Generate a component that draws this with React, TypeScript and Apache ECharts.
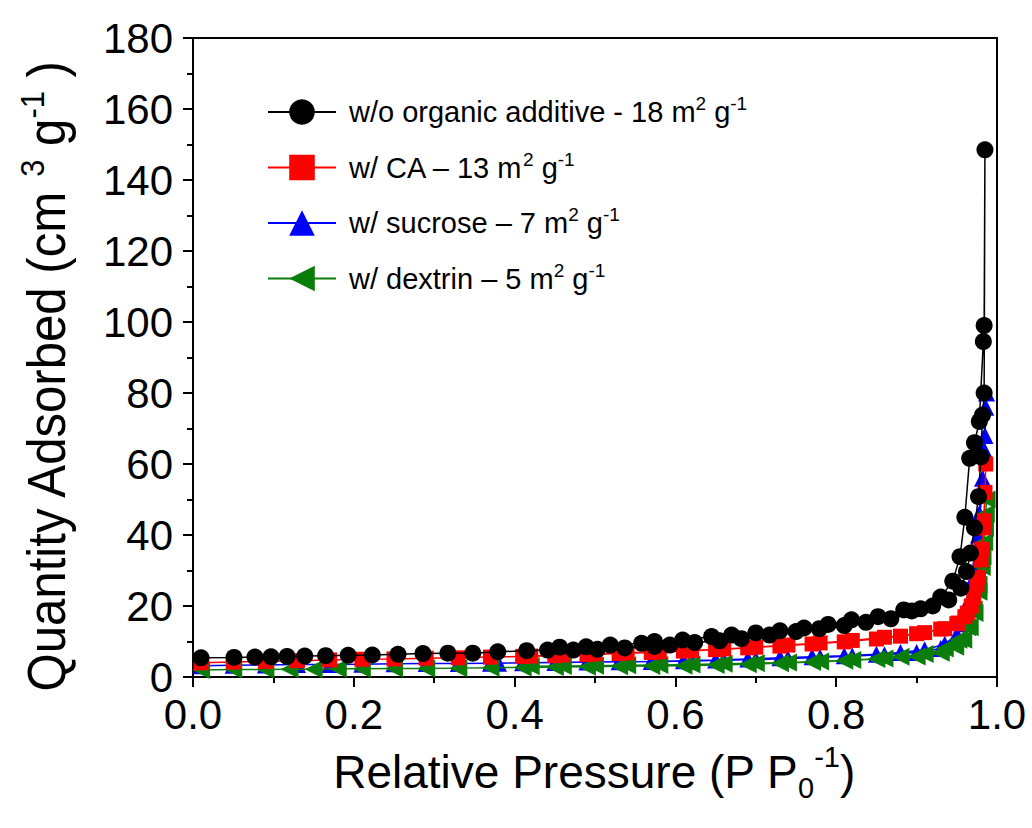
import React, { useEffect, useRef } from 'react';
import * as echarts from 'echarts';

const FONT = '"Liberation Sans", Arial, Helvetica, sans-serif';

const seriesNames = [
  'w/o organic additive - 18 m2 g-1',
  'w/ CA – 13 m2 g-1',
  'w/ sucrose – 7 m2 g-1',
  'w/ dextrin – 5 m2 g-1',
];
const legendPrefixes = [
  'w/o organic additive - 18 m',
  'w/ CA – 13 m',
  'w/ sucrose – 7 m',
  'w/ dextrin – 5 m',
];

const xTicks = [0, 0.2, 0.4, 0.6, 0.8, 1.0];
const yTicks = [0, 20, 40, 60, 80, 100, 120, 140, 160, 180];

// w/o organic additive (adsorption, then desorption)
const noAddP = [
  0.010, 0.051, 0.077, 0.097, 0.117, 0.139, 0.165, 0.193, 0.223, 0.255, 0.286, 0.317, 0.348, 0.379, 0.415, 0.441,
  0.473, 0.503, 0.537, 0.574, 0.593, 0.624, 0.655, 0.682, 0.717, 0.750, 0.779, 0.810, 0.837, 0.868, 0.894, 0.920,
  0.940, 0.955, 0.962, 0.967, 0.972, 0.977, 0.980, 0.982, 0.984, 0.985,
  0.984, 0.983, 0.978, 0.972, 0.966, 0.960, 0.954, 0.945, 0.930, 0.905, 0.884, 0.852, 0.819, 0.790, 0.760, 0.730,
  0.700, 0.670, 0.645, 0.609, 0.574, 0.558, 0.519, 0.489, 0.456,
];
const noAddQ = [
  5.4, 5.5, 5.6, 5.7, 5.8, 5.9, 6.0, 6.1, 6.2, 6.4, 6.6, 6.7, 6.7, 7.1, 7.4, 7.6,
  7.6, 7.8, 8.2, 8.6, 9.0, 9.7, 10.2, 10.8, 11.8, 12.8, 13.6, 14.5, 15.4, 16.4, 18.6, 20.0,
  21.7, 25.0, 29.7, 34.9, 42.0, 50.8, 62.0, 73.8, 80.0, 148.5,
  99.0, 94.5, 72.0, 66.0, 61.6, 45.0, 33.9, 27.0, 22.5, 19.2, 18.9, 17.0, 16.1, 14.8, 13.8, 13.0,
  12.4, 11.8, 11.4, 10.4, 10.0, 9.5, 9.0, 8.5, 8.4,
];

// w/ CA
const caP = [
  0.010, 0.05, 0.09, 0.13, 0.17, 0.21, 0.25, 0.29, 0.33, 0.37, 0.41, 0.45, 0.49, 0.53, 0.57, 0.61,
  0.65, 0.69, 0.73, 0.77, 0.81, 0.85, 0.88, 0.91, 0.935, 0.952, 0.963, 0.971, 0.977, 0.981, 0.984, 0.986,
  0.985, 0.983, 0.980, 0.975, 0.968, 0.960, 0.950, 0.930, 0.900, 0.860, 0.820, 0.780, 0.740, 0.700, 0.660, 0.620,
  0.580, 0.540, 0.500, 0.460, 0.420,
];
const caQ = [
  4.0, 4.2, 4.4, 4.6, 4.8, 5.0, 5.1, 5.3, 5.4, 5.6, 5.8, 6.0, 6.3, 6.6, 6.9, 7.3,
  7.7, 8.2, 8.7, 9.3, 9.9, 10.7, 11.5, 12.5, 13.6, 15.2, 18.0, 22.5, 28.0, 36.0, 44.0, 60.0,
  52.0, 42.0, 33.0, 26.0, 20.0, 17.0, 15.0, 13.5, 12.2, 11.2, 10.3, 9.6, 9.0, 8.4, 7.9, 7.5,
  7.1, 6.8, 6.5, 6.2, 5.9,
];

// w/ sucrose
const sucroseP = [
  0.010, 0.05, 0.09, 0.13, 0.17, 0.21, 0.25, 0.29, 0.33, 0.37, 0.41, 0.45, 0.49, 0.53, 0.57, 0.61,
  0.65, 0.69, 0.73, 0.77, 0.81, 0.85, 0.88, 0.91, 0.935, 0.950, 0.960, 0.967, 0.973, 0.978, 0.982, 0.985, 0.987,
  0.986, 0.984, 0.981, 0.977, 0.972, 0.966, 0.958, 0.948, 0.930, 0.900, 0.860, 0.820, 0.780, 0.740, 0.700, 0.660,
  0.620, 0.580, 0.540, 0.500, 0.460, 0.420, 0.380,
];
const sucroseQ = [
  3.2, 3.3, 3.4, 3.5, 3.5, 3.6, 3.7, 3.8, 3.8, 3.9, 4.0, 4.1, 4.2, 4.3, 4.4, 4.6,
  4.8, 5.1, 5.4, 5.7, 6.0, 6.4, 6.9, 7.7, 9.2, 12.0, 18.0, 26.0, 36.0, 46.0, 56.0, 68.0, 80.0,
  76.0, 64.0, 52.0, 40.0, 30.0, 22.0, 15.0, 10.5, 8.0, 6.9, 6.3, 5.9, 5.5, 5.2, 4.9, 4.7,
  4.5, 4.4, 4.3, 4.2, 4.1, 4.0, 3.9,
];

// w/ dextrin
const dextrinP = [
  0.010, 0.05, 0.09, 0.12, 0.15, 0.18, 0.21, 0.25, 0.29, 0.33, 0.37, 0.41, 0.45, 0.49, 0.53, 0.57,
  0.61, 0.65, 0.69, 0.73, 0.77, 0.81, 0.85, 0.88, 0.91, 0.935, 0.952, 0.963, 0.971, 0.977, 0.982, 0.985, 0.987,
  0.986, 0.984, 0.981, 0.977, 0.972, 0.966, 0.958, 0.948, 0.930, 0.900, 0.860, 0.820, 0.780, 0.740, 0.700, 0.660,
  0.620, 0.580, 0.540, 0.500, 0.460, 0.420,
];
const dextrinQ = [
  2.0, 2.1, 2.1, 2.2, 2.2, 2.3, 2.3, 2.4, 2.4, 2.5, 2.6, 2.7, 2.8, 2.9, 3.0, 3.1,
  3.2, 3.4, 3.6, 3.9, 4.2, 4.6, 5.1, 5.7, 6.5, 8.0, 10.5, 14.0, 19.0, 26.0, 34.0, 42.0, 50.0,
  46.0, 38.0, 31.0, 24.0, 18.0, 14.0, 10.5, 8.5, 6.8, 5.8, 5.2, 4.8, 4.4, 4.1, 3.9, 3.7,
  3.5, 3.4, 3.3, 3.2, 3.1, 3.0,
];

const colors = ['#000000', '#ff0000', '#0000ff', '#0a7d0a'];
const symbols = ['circle', 'rect', 'triangle', 'triangle'];
const symbolSizes = [17, 15, 17, 18];
const symbolRotates = [0, 0, 0, 90];
const zLevels = [5, 4, 2, 3];

function zip(p: number[], q: number[]) {
  return p.map((x, i) => [x, q[i]]);
}

export default function App() {
  const ref = useRef<HTMLDivElement>(null);

  useEffect(() => {
    const chart = echarts.init(ref.current!, null, { renderer: 'svg' });
    const datasets = [zip(noAddP, noAddQ), zip(caP, caQ), zip(sucroseP, sucroseQ), zip(dextrinP, dextrinQ)];

    const tickCommon = {
      axisLine: { show: true, lineStyle: { color: '#000', width: 2 } },
      axisTick: { show: true, length: 10, lineStyle: { color: '#000', width: 2 } },
      minorTick: { show: true, splitNumber: 2, length: 6, lineStyle: { color: '#000', width: 2 } },
      splitLine: { show: false },
      minorSplitLine: { show: false },
    };

    const legendRich = {
      a: { fontSize: 29, fontFamily: FONT, color: '#000', lineHeight: 36 },
      sup: { fontSize: 19, fontFamily: FONT, color: '#000', verticalAlign: 'top' as const, lineHeight: 20 },
    };

    const option: any = {
      animation: false,
      backgroundColor: '#ffffff',
      grid: {
        left: 193,
        right: 35,
        top: 38,
        bottom: 151,
        show: true,
        borderColor: '#000',
        borderWidth: 2,
        backgroundColor: 'transparent',
      },
      xAxis: {
        type: 'value',
        min: xTicks[0],
        max: xTicks[xTicks.length - 1],
        interval: 0.2,
        ...tickCommon,
        axisLabel: {
          fontSize: 42,
          fontFamily: FONT,
          color: '#000',
          margin: 16,
          formatter: (v: number) => v.toFixed(1),
        },
      },
      yAxis: {
        type: 'value',
        min: yTicks[0],
        max: yTicks[yTicks.length - 1],
        interval: 20,
        ...tickCommon,
        axisLabel: {
          fontSize: 42,
          fontFamily: FONT,
          color: '#000',
          margin: 20,
        },
      },
      legend: {
        orient: 'vertical',
        left: 262,
        top: 89,
        itemWidth: 68,
        itemHeight: 32,
        itemGap: 23,
        selectedMode: false,
        data: seriesNames,
        formatter: (name: string) => {
          const i = seriesNames.indexOf(name);
          return `{a|${legendPrefixes[i]}}{sup|2}{a| g}{sup|-1}`;
        },
        textStyle: { rich: legendRich, padding: [0, 0, 0, 8] },
      },
      series: seriesNames.map((name, i) => ({
        name,
        type: 'line',
        data: datasets[i],
        symbol: symbols[i],
        symbolSize: symbolSizes[i],
        symbolRotate: symbolRotates[i],
        showAllSymbol: true,
        z: zLevels[i],
        silent: true,
        lineStyle: { color: colors[i], width: 1.5 },
        itemStyle: { color: colors[i] },
        clip: false,
      })),
      graphic: [
        {
          type: 'text',
          x: 46,
          y: 377,
          rotation: Math.PI / 2,
          scaleX: 0.91,
          silent: true,
          style: {
            text: '{a|Quantity Adsorbed (cm }{sup|3}{a| g}{sup|-1}{a| )}',
            align: 'center',
            verticalAlign: 'middle',
            rich: {
              a: { fontSize: 54, fontFamily: FONT, fill: '#000', color: '#000', lineHeight: 62 },
              sup: { fontSize: 34, fontFamily: FONT, fill: '#000', color: '#000', verticalAlign: 'top', lineHeight: 34 },
            },
          },
        },
        {
          type: 'text',
          x: 594,
          y: 772,
          silent: true,
          style: {
            text: '{a|Relative Pressure (P P}{sub|0}{sup|-1}{a|)}',
            align: 'center',
            verticalAlign: 'middle',
            rich: {
              a: { fontSize: 46, fontFamily: FONT, fill: '#000', color: '#000', lineHeight: 60 },
              sup: { fontSize: 29, fontFamily: FONT, fill: '#000', color: '#000', verticalAlign: 'top', lineHeight: 30 },
              sub: { fontSize: 29, fontFamily: FONT, fill: '#000', color: '#000', verticalAlign: 'bottom', lineHeight: 30 },
            },
          },
        },
      ],
    };

    chart.setOption(option);
    return () => chart.dispose();
  }, []);

  return (
    <div
      ref={ref}
      style={{ position: 'fixed', left: 0, top: 0, width: 1032, height: 828, background: '#ffffff' }}
    />
  );
}
